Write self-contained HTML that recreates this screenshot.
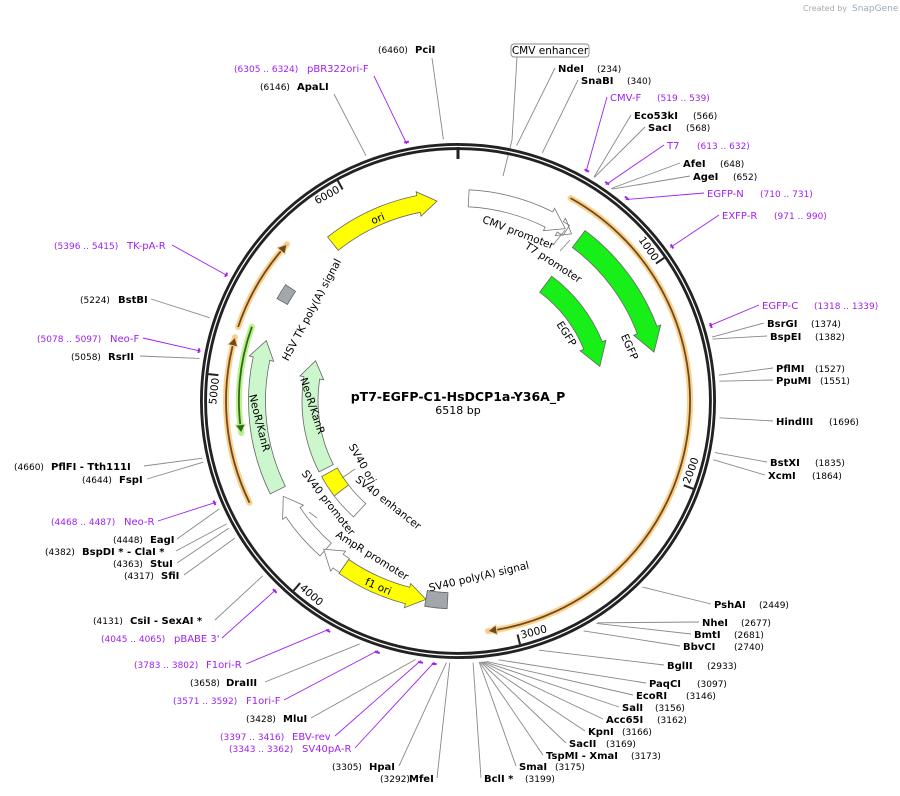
<!DOCTYPE html>
<html><head><meta charset="utf-8"><style>
html,body{margin:0;padding:0;background:#fff;}
svg{display:block;font-family:"DejaVu Sans","Liberation Sans",sans-serif;}
.l{font-size:10px;font-weight:bold;fill:#000}
.n{font-size:9px;fill:#000}
.p{font-size:10px;fill:#a020f0}
.pn{font-size:9px;fill:#a020f0}
.f{font-size:10.5px;fill:#000}
</style></head><body>
<svg id="s" width="900" height="796" viewBox="0 0 900 796" xmlns="http://www.w3.org/2000/svg">
<text x="803" y="11" font-size="8" fill="#aaa">Created by</text><text x="852" y="11" font-size="9" fill="#9ab">SnapGene</text>
<g id="g"></g>
<text x="458" y="401" text-anchor="middle" font-size="12.5" font-weight="bold">pT7-EGFP-C1-HsDCP1a-Y36A_P</text>
<text x="458" y="414" text-anchor="middle" font-size="11">6518 bp</text>
</svg>
<script>
var cx=458,cy=401,N=6518,out='';
function pt(r,a){var t=a*Math.PI/180;return [cx+r*Math.sin(t),cy-r*Math.cos(t)];}
function P(p){return p[0].toFixed(1)+','+p[1].toFixed(1);}
function arc(r,a1,a2){var s=pt(r,a1),e=pt(r,a2);var lg=Math.abs(a2-a1)>180?1:0;var sw=a2>a1?1:0;return 'M'+P(s)+' A'+r+','+r+' 0 '+lg+' '+sw+' '+P(e);}
function band(r,w,a1,a2,dir,fill,stroke){
 var ro=r+w/2,ri=r-w/2,h=(w*1.1)/r*57.3,d='';
 if(dir==0){d='M'+P(pt(ro,a1))+' A'+ro+','+ro+' 0 0 1 '+P(pt(ro,a2))+' L'+P(pt(ri,a2))+' A'+ri+','+ri+' 0 0 0 '+P(pt(ri,a1))+'Z';}
 else if(dir==1){var b=a2-h;d='M'+P(pt(ro,a1))+' A'+ro+','+ro+' 0 0 1 '+P(pt(ro,b))+' L'+P(pt(ro+4,b))+' L'+P(pt(r,a2))+' L'+P(pt(ri-4,b))+' L'+P(pt(ri,b))+' A'+ri+','+ri+' 0 0 0 '+P(pt(ri,a1))+'Z';}
 else {var b=a1+h;d='M'+P(pt(r,a1))+' L'+P(pt(ro+4,b))+' L'+P(pt(ro,b))+' A'+ro+','+ro+' 0 0 1 '+P(pt(ro,a2))+' L'+P(pt(ri,a2))+' A'+ri+','+ri+' 0 0 0 '+P(pt(ri,b))+' L'+P(pt(ri-4,b))+'Z';}
 out+='<path d="'+d+'" fill="'+fill+'" stroke="'+(stroke||'#666')+'" stroke-width="0.8"/>';
}
function thin(r,a1,a2,dir,c1,c2){
 out+='<path d="'+arc(r,a1,a2)+'" fill="none" stroke="'+c1+'" stroke-width="6" stroke-linecap="round"/>';
 out+='<path d="'+arc(r,a1,a2)+'" fill="none" stroke="'+c2+'" stroke-width="1.8"/>';
 var t=dir==1?a2:a1,b=dir==1?a2-2.2:a1+2.2;
 out+='<path d="M'+P(pt(r+5,b))+' L'+P(pt(r,t))+' L'+P(pt(r-5,b))+'Z" fill="'+c2+'" stroke="'+c1+'" stroke-width="1"/>';
}
function line(x1,y1,x2,y2,c){out+='<line x1="'+x1+'" y1="'+y1+'" x2="'+x2.toFixed(1)+'" y2="'+y2.toFixed(1)+'" stroke="'+(c||'#888')+'" stroke-width="0.9"/>';}
function ld(x,y,bp,c){var a=bp/N*360,p=pt(262,a);line(x,y,p[0],p[1],c);}
function prim(b1,b2){var a1=b1/N*360,a2=b2/N*360;out+='<path d="'+arc(264,a1,a2)+'" fill="none" stroke="#a020f0" stroke-width="2"/>';}
var R=[[558,72,'NdeI','(234)',234,597],[581,84,'SnaBI','(340)',340,627],[634,119,'Eco53kI','(566)',566,693],[648,131,'SacI','(568)',568,686],
[683,167,'AfeI','(648)',648,720],[693,180,'AgeI','(652)',652,733],[767,327,'BsrGI','(1374)',1374,811],[770,340,'BspEI','(1382)',1382,815],
[776,372,'PflMI','(1527)',1527,815],[776,384,'PpuMI','(1551)',1551,820],[776,425,'HindIII','(1696)',1696,829],[770,466,'BstXI','(1835)',1835,815],
[768,479,'XcmI','(1864)',1864,812],[714,608,'PshAI','(2449)',2449,759],[702,626,'NheI','(2677)',2677,741],[694,638,'BmtI','(2681)',2681,734],
[683,650,'BbvCI','(2740)',2740,734],[667,669,'BglII','(2933)',2933,707],[649,687,'PaqCI','(3097)',3097,697],[636,699,'EcoRI','(3146)',3146,686],
[622,711,'SalI','(3156)',3156,655],[606,723,'Acc65I','(3162)',3162,657],[588,735,'KpnI','(3166)',3166,622],[569,747,'SacII','(3169)',3169,606],
[546,759,'TspMI  - XmaI','(3173)',3173,631],[519,770,'SmaI','(3175)',3175,555],[484,782,'BclI *','(3199)',3199,525]];
R.forEach(function(r){ld(r[0]-3,r[1]-4,r[4]);out+='<text class="l" x="'+r[0]+'" y="'+r[1]+'">'+r[2]+'</text><text class="n" x="'+r[5]+'" y="'+r[1]+'">'+r[3]+'</text>';});
var RP=[[610,101,'CMV-F','(519 .. 539)',529,657,519,539],[667,149,'T7','(613 .. 632)',622,697,613,632],[707,197,'EGFP-N','(710 .. 731)',720,760,710,731],
[722,219,'EXFP-R','(971 .. 990)',980,774,971,990],[762,309,'EGFP-C','(1318 .. 1339)',1328,814,1318,1339]];
RP.forEach(function(r){ld(r[0]-3,r[1]-4,r[4],'#a020f0');prim(r[6],r[7]);out+='<text class="p" x="'+r[0]+'" y="'+r[1]+'">'+r[2]+'</text><text class="pn" x="'+r[5]+'" y="'+r[1]+'">'+r[3]+'</text>';});
// left labels [nameStartX,y,name,num,bp,numX,lineStartX,purple,b1,b2]
var L=[[415,53,'PciI','(6460)',6460,378,0],[297,90,'ApaLI','(6146)',6146,260,0],[118,303,'BstBI','(5224)',5224,80,151],[108,360,'RsrII','(5058)',5058,71,140],
[51,470,'PflFI  - Tth111I','(4660)',4660,14,144],[119,483,'FspI','(4644)',4644,82,147],[150,543,'EagI','(4448)',4448,113,177],[82,555,'BspDI *  - ClaI *','(4382)',4382,45,176],
[150,567,'StuI','(4363)',4363,113,177],[161,579,'SfiI','(4317)',4317,124,184],[130,624,'CsiI  - SexAI *','(4131)',4131,93,215],[226,686,'DraIII','(3658)',3658,190,265],
[283,722,'MluI','(3428)',3428,246,311],[369,770,'HpaI','(3305)',3305,332,399],[409,782,'MfeI','(3292)',3292,380,437],
[307,72,'pBR322ori-F','(6305 .. 6324)',6314,234,0,1,6305,6324],[127,249,'TK-pA-R','(5396 .. 5415)',5405,54,172,1,5396,5415],[110,342,'Neo-F','(5078 .. 5097)',5087,37,143,1,5078,5097],
[124,525,'Neo-R','(4468 .. 4487)',4477,51,158,1,4468,4487],[174,642,"pBABE 3'",'(4045 .. 4065)',4055,101,222,1,4045,4065],[206,668,'F1ori-R','(3783 .. 3802)',3792,134,246,1,3783,3802],
[246,704,'F1ori-F','(3571 .. 3592)',3581,173,284,1,3571,3592],[292,740,'EBV-rev','(3397 .. 3416)',3406,220,335,1,3397,3416],[302,752,'SV40pA-R','(3343 .. 3362)',3352,229,355,1,3343,3362]];
L.forEach(function(r){var pu=r[7]==1;
 if(r[2]=='PciI'){ld(432,58,r[4]);}else if(r[2]=='ApaLI'){ld(334,94,r[4]);}else if(r[2]=='pBR322ori-F'){ld(374,76,r[4],'#a020f0');}else{ld(r[6],r[1]-4,r[4],pu?'#a020f0':'#888');}
 if(pu)prim(r[8],r[9]);
 out+='<text class="'+(pu?'p':'l')+'" x="'+r[0]+'" y="'+r[1]+'">'+r[2]+'</text>';
 out+='<text class="'+(pu?'pn':'n')+'" x="'+r[5]+'" y="'+r[1]+'">'+r[3]+'</text>';});
out+='<rect x="511" y="44" width="78" height="13" rx="3" fill="#fff" stroke="#888" stroke-width="0.9"/><text class="f" x="550" y="54" text-anchor="middle" font-size="10">CMV enhancer</text>';
line(517,57,512,140);line(512,140,503,176);
out+='<circle cx="'+cx+'" cy="'+cy+'" r="254.5" fill="none" stroke="#222" stroke-width="7"/>';
out+='<circle cx="'+cx+'" cy="'+cy+'" r="254.5" fill="none" stroke="#fff" stroke-width="1.3"/>';
out+='<line x1="458" y1="147" x2="458" y2="159" stroke="#222" stroke-width="3"/>';
[1000,2000,3000,4000,5000,6000].forEach(function(k){var a=k/N*360,p1=pt(251,a),p2=pt(241,a);
 out+='<line x1="'+p1[0]+'" y1="'+p1[1]+'" x2="'+p2[0]+'" y2="'+p2[1]+'" stroke="#222" stroke-width="2"/>';
 var rot,anc,p=pt(243,a);if(a<90){rot=a;anc='end';}else if(a<270){rot=a-180;anc='start';}else{rot=a-360;anc='end';}
 var dx=(a<90||a>270)?-3:3;
 out+='<text font-size="10.5" x="'+p[0]+'" y="'+p[1]+'" text-anchor="'+anc+'" dominant-baseline="middle" transform="rotate('+rot+' '+p[0]+' '+p[1]+') translate('+dx+',0)">'+k+'</text>';});
thin(232,29,172.6,1,'#fcd08a','#6b4a20');
thin(232,288.6,312.5,1,'#fcd08a','#6b4a20');
thin(232,244,286,1,'#fcd08a','#6b4a20');
thin(219,261.6,289.8,-1,'#b9f28c','#2f6a1a');
band(201,17,243.7,287.5,1,'#ccf7cc');
band(148,16,243,285.8,1,'#ccf7cc');
band(199,17,221.7,241.4,1,'#fff','#777');
band(200,17,214.6,222.2,1,'#fff','#777');
band(201,17,189.2,214.6,-1,'#ffff00');
band(201,17,321.5,354,1,'#ffff00');
band(203,17,3,31.9,1,'#fff','#777');
band(202,12,32.4,34.2,1,'#fff','#777');
band(202,21,36.7,76,1,'#18ee18');
band(146,20,36.9,76.3,1,'#18ee18');
band(147,18,232.5,241,0,'#ffff00');
band(147,18,222,232.5,0,'#fff','#777');
band(202,12,299.5,304,0,'#a2a7ad');
band(200,16,183,189.2,0,'#a2a7ad');
function ft(x,y,r,t){out+='<text class="f" x="'+x+'" y="'+y+'" text-anchor="middle" dominant-baseline="middle" transform="rotate('+r+' '+x+' '+y+')">'+t+'</text>';}
ft(378,219,-22,'ori');ft(518,233,21,'CMV promoter');ft(553,263,33,'T7 promoter');
ft(629,347,66,'EGFP');ft(566,334,57,'EGFP');ft(312,310,-62,'HSV TK poly(A) signal');
ft(259,423,76,'NeoR/KanR');ft(312,406,72,'NeoR/KanR');ft(362,464,60,'SV40 ori');
ft(388,503,38,'SV40 enhancer');ft(328,503,52,'SV40 promoter');ft(372,556,32,'AmpR promoter');
ft(378,587,23,'f1 ori');ft(479,577,-13,'SV40 poly(A) signal');
line(355,469,342,478);line(317,518,309,512);line(553,245,565,230);line(560,251,570,240);
document.getElementById('g').innerHTML=out;
</script>
</body></html>
